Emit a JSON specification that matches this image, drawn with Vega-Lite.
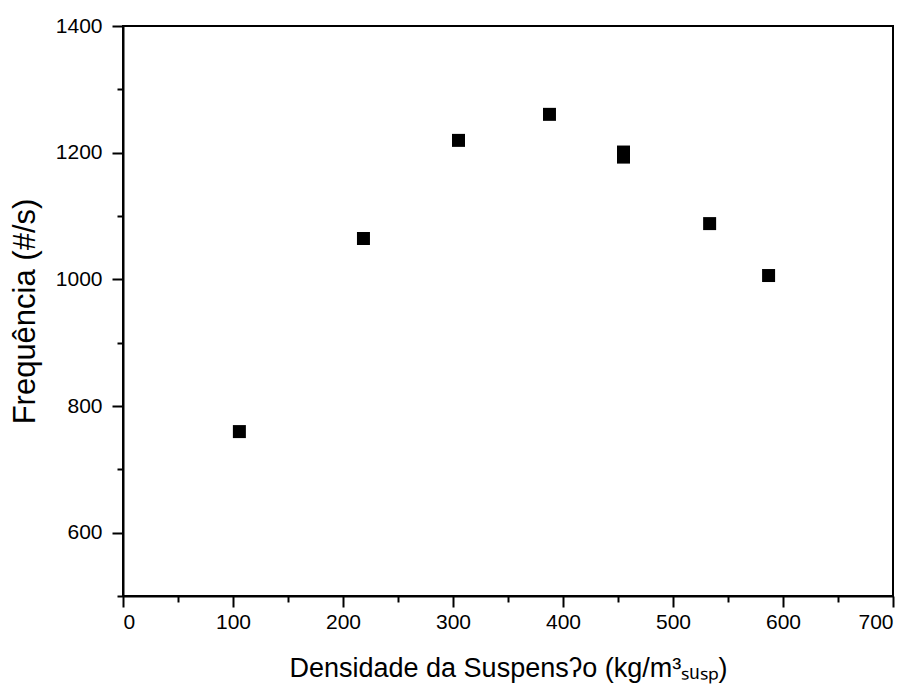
{
  "$schema": "https://vega.github.io/schema/vega-lite/v6.json",
  "width": 770,
  "height": 570,
  "autosize": {"type": "none"},
  "padding": {"left": 123, "top": 26, "right": 21, "bottom": 99},
  "background": "white",
  "config": {
    "view": {"stroke": "black", "strokeWidth": 2},
    "font": "Liberation Sans",
    "axis": {
      "domainColor": "black",
      "domainWidth": 2,
      "tickColor": "black",
      "tickWidth": 2,
      "labelColor": "black",
      "titleColor": "black",
      "labelFont": "Liberation Sans",
      "titleFont": "Liberation Sans",
      "labelFontSize": 21,
      "titleFontSize": 27,
      "titleFontWeight": "normal",
      "grid": false
    }
  },
  "data": {
    "values": [
      {"dens": 105.8, "freq": 759.6},
      {"dens": 218.6, "freq": 1064.5},
      {"dens": 305.0, "freq": 1219.4},
      {"dens": 387.7, "freq": 1260.5},
      {"dens": 455.0, "freq": 1201.0},
      {"dens": 455.0, "freq": 1193.0},
      {"dens": 533.3, "freq": 1088.0},
      {"dens": 586.9, "freq": 1006.0}
    ]
  },
  "layer": [
    {
      "mark": {"type": "point", "shape": "square", "filled": true, "color": "black", "opacity": 1, "size": 169},
      "encoding": {
        "x": {
          "field": "dens", "type": "quantitative",
          "scale": {"domain": [0, 700], "nice": false, "zero": false},
          "axis": {
            "orient": "bottom",
            "values": [0, 100, 200, 300, 400, 500, 600, 700],
            "format": "d",
            "tickSize": 11,
            "labelPadding": 4,
            "title": "Densidade da Suspensʔo (kg/m³ₛᵤₛₚ)",
            "titlePadding": 23
          }
        },
        "y": {
          "field": "freq", "type": "quantitative",
          "scale": {"domain": [500, 1400], "nice": false, "zero": false},
          "axis": {
            "orient": "left",
            "values": [600, 800, 1000, 1200, 1400],
            "format": "d",
            "tickSize": 11,
            "labelPadding": 10,
            "title": "Frequência (#/s)",
            "titleFontSize": 31,
            "titlePadding": 14
          }
        }
      }
    },
    {
      "mark": {"type": "point", "opacity": 0},
      "encoding": {
        "x": {
          "field": "dens", "type": "quantitative",
          "axis": {
            "orient": "bottom",
            "values": [50, 150, 250, 350, 450, 550, 650],
            "tickSize": 6,
            "labels": false,
            "domain": false,
            "title": null
          }
        },
        "y": {
          "field": "freq", "type": "quantitative",
          "axis": {
            "orient": "left",
            "values": [500, 700, 900, 1100, 1300],
            "tickSize": 6,
            "labels": false,
            "domain": false,
            "title": null
          }
        }
      }
    }
  ],
  "resolve": {"axis": {"x": "independent", "y": "independent"}}
}
